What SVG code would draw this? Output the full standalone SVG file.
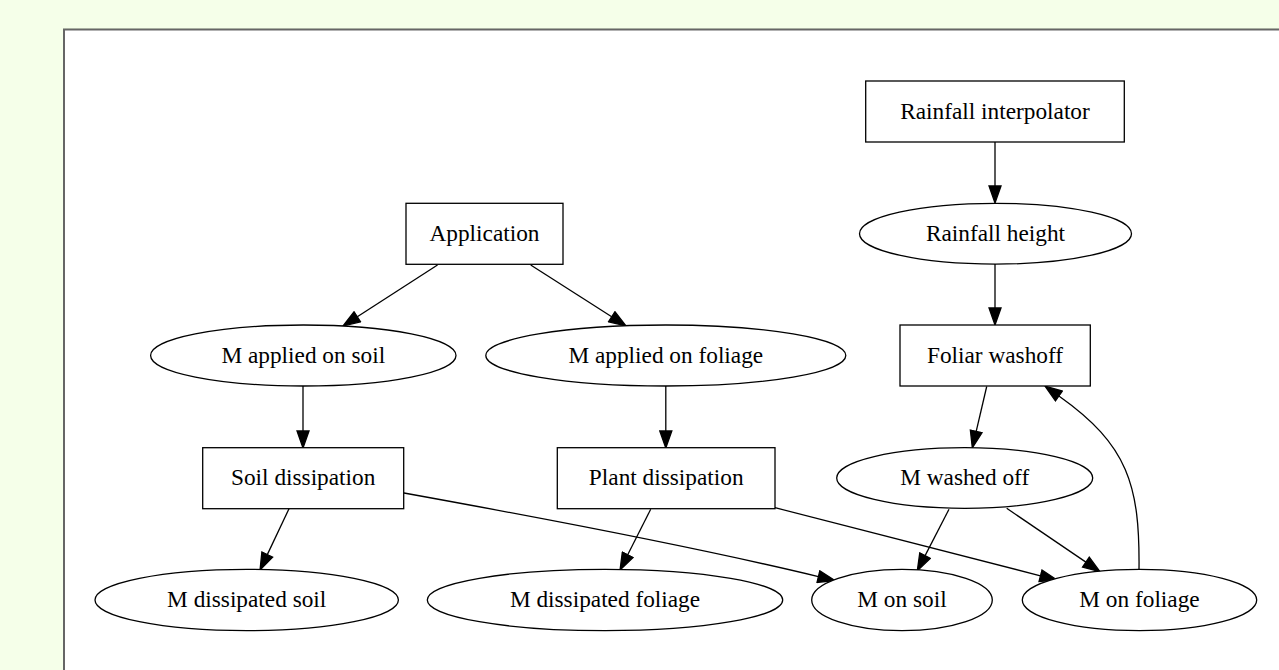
<svg xmlns="http://www.w3.org/2000/svg" width="1279" height="670" viewBox="0 0 1279 670">
  <style>
    .node { fill: #ffffff; stroke: #000000; stroke-width: 1.3; }
    .label { font-family: "Liberation Serif", "Times New Roman", serif; font-size: 23.3px; fill: #000000; text-anchor: middle; }
    .edge { fill: none; stroke: #000000; stroke-width: 1.3; marker-end: url(#arrow); }
  </style>
  <defs>
    <marker id="arrow" viewBox="-1 -7 19 14" refX="0" refY="0" markerWidth="19" markerHeight="14" markerUnits="userSpaceOnUse" orient="auto">
      <path d="M0,-6 L17,0 L0,6 z" fill="#000000" stroke="#000000" stroke-width="1.3"/>
    </marker>
  </defs>

  <!-- page background and white panel -->
  <rect x="0" y="0" width="1279" height="670" fill="#f5ffe9"/>
  <rect x="64" y="29.5" width="1240" height="700" fill="#ffffff" stroke="#666666" stroke-width="2"/>
  <line x1="63" y1="28.5" x2="1279" y2="28.5" stroke="#a9b0a2" stroke-width="1"/>

  <!-- connectors -->
  <g id="edges">
    <path class="edge" d="M995,142 L995,186"/>
    <path class="edge" d="M995,264 L995,308"/>
    <path class="edge" d="M437.5,265 L357.3,316.8"/>
    <path class="edge" d="M530.7,265 L611.7,316.8"/>
    <path class="edge" d="M303,386 L303,431"/>
    <path class="edge" d="M665.8,386 L665.8,431"/>
    <path class="edge" d="M986.7,386.5 L976.2,431.4"/>
    <path class="edge" d="M289,508.7 L267.3,554.6"/>
    <path class="edge" d="M650.7,509.3 L627.7,554.8"/>
    <path class="edge" d="M404,493 C520,514 700,548 818.4,576.6"/>
    <path class="edge" d="M775,507.7 L1040.5,575.8"/>
    <path class="edge" d="M949,509.3 L925.1,555.6"/>
    <path class="edge" d="M1006.7,508.3 L1085.9,562.1"/>
    <path class="edge" d="M1139,570 C1140,485 1128,445 1058.9,396"/>
  </g>

  <!-- nodes -->
  <g id="rainfall_interpolator">
    <rect class="node" x="865.7" y="81" width="258.6" height="61"/>
    <text class="label" x="995" y="118.5">Rainfall interpolator</text>
  </g>
  <g id="rainfall_height">
    <ellipse class="node" cx="995.5" cy="233.7" rx="136" ry="30.4"/>
    <text class="label" x="995.5" y="240.7">Rainfall height</text>
  </g>
  <g id="application">
    <rect class="node" x="406" y="203.3" width="157" height="61"/>
    <text class="label" x="484.5" y="241">Application</text>
  </g>
  <g id="m_applied_on_soil">
    <ellipse class="node" cx="303.3" cy="355.5" rx="152.7" ry="30.5"/>
    <text class="label" x="303.3" y="362.5">M applied on soil</text>
  </g>
  <g id="m_applied_on_foliage">
    <ellipse class="node" cx="665.8" cy="355.5" rx="180" ry="30.5"/>
    <text class="label" x="665.8" y="362.5">M applied on foliage</text>
  </g>
  <g id="foliar_washoff">
    <rect class="node" x="900" y="325" width="190.3" height="61"/>
    <text class="label" x="995" y="362.5">Foliar washoff</text>
  </g>
  <g id="soil_dissipation">
    <rect class="node" x="202.7" y="447.7" width="201" height="61"/>
    <text class="label" x="303.2" y="485">Soil dissipation</text>
  </g>
  <g id="plant_dissipation">
    <rect class="node" x="557.3" y="447.7" width="217.7" height="61"/>
    <text class="label" x="666.2" y="485">Plant dissipation</text>
  </g>
  <g id="m_washed_off">
    <ellipse class="node" cx="964.7" cy="478" rx="128" ry="30.3"/>
    <text class="label" x="964.7" y="485">M washed off</text>
  </g>
  <g id="m_dissipated_soil">
    <ellipse class="node" cx="246.7" cy="600" rx="151.7" ry="30.7"/>
    <text class="label" x="246.7" y="607">M dissipated soil</text>
  </g>
  <g id="m_dissipated_foliage">
    <ellipse class="node" cx="605" cy="600" rx="177.7" ry="30.7"/>
    <text class="label" x="605" y="607">M dissipated foliage</text>
  </g>
  <g id="m_on_soil">
    <ellipse class="node" cx="902" cy="600" rx="90.3" ry="30.7"/>
    <text class="label" x="902" y="607">M on soil</text>
  </g>
  <g id="m_on_foliage">
    <ellipse class="node" cx="1139.5" cy="600" rx="117.2" ry="30.7"/>
    <text class="label" x="1139.5" y="607">M on foliage</text>
  </g>
</svg>
